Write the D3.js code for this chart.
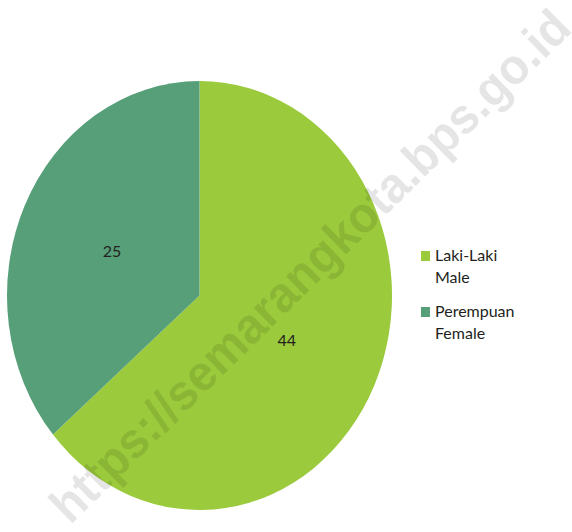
<!DOCTYPE html>
<html>
<head>
<meta charset="utf-8">
<script src="https://cdn.jsdelivr.net/npm/d3@7"></script>
<style>
  body { margin: 0; background: #fff; }
  svg { display: block; }
</style>
</head>
<body>
<div id="chart"></div>
<script>
// data
var categories = ["Laki-Laki", "Perempuan"];
var categoriesEn = ["Male", "Female"];
var values = [44, 25];
var colors = ["#9bca3c", "#569f78"];

var width = 572, height = 532;

var svg = d3.select("#chart").append("svg")
    .attr("width", width)
    .attr("height", height);

// pie is drawn as a circle then stretched vertically like the original
var cx = 199.5, cy = 295.5, rx = 192.5, ry = 214.5;
var sy = ry / rx;

var pie = d3.pie().sort(null).value(function(d){ return d; });
var arc = d3.arc().innerRadius(0).outerRadius(rx);
var slices = pie(values);

var g = svg.append("g")
    .attr("transform", "translate(" + cx + "," + cy + ") scale(1," + sy + ")");

g.selectAll("path").data(slices).enter()
    .append("path")
    .attr("d", arc)
    .attr("fill", function(d, i){ return colors[i]; });

// value labels
svg.selectAll(".val").data(slices).enter()
    .append("text")
    .attr("class", "val")
    .attr("x", function(d){ return cx + arc.centroid(d)[0]; })
    .attr("y", function(d){ return cy + arc.centroid(d)[1] * sy + 6; })
    .attr("text-anchor", "middle")
    .style("font-family", "Lato, 'Open Sans', sans-serif")
    .style("font-size", "16px")
    .style("fill", "#231f20")
    .text(function(d){ return d.data; });

// legend
var legend = svg.append("g").attr("transform", "translate(421,251)");
var item = legend.selectAll(".item").data(categories).enter()
    .append("g")
    .attr("class", "item")
    .attr("transform", function(d, i){ return "translate(0," + (i * 56) + ")"; });

item.append("rect")
    .attr("width", 9).attr("height", 10)
    .attr("fill", function(d, i){ return colors[i]; });

var lt = item.append("text")
    .attr("x", 14)
    .style("font-family", "Lato, 'Open Sans', sans-serif")
    .style("font-size", "16px")
    .style("fill", "#231f20");
lt.append("tspan").attr("x", 14).attr("y", 10).text(function(d){ return d; });
lt.append("tspan").attr("x", 14).attr("y", 32).text(function(d, i){ return categoriesEn[i]; });

// watermark
svg.append("text")
    .attr("transform", "translate(310,266) rotate(-44.5)")
    .attr("text-anchor", "middle")
    .attr("dominant-baseline", "central")
    .attr("textLength", 706)
    .attr("lengthAdjust", "spacingAndGlyphs")
    .style("font-family", "'Liberation Sans', Arial, sans-serif")
    .style("font-weight", "bold")
    .style("font-size", "50px")
    .style("fill", "#000")
    .style("fill-opacity", 0.1)
    .text("https://semarangkota.bps.go.id");
</script>
</body>
</html>
